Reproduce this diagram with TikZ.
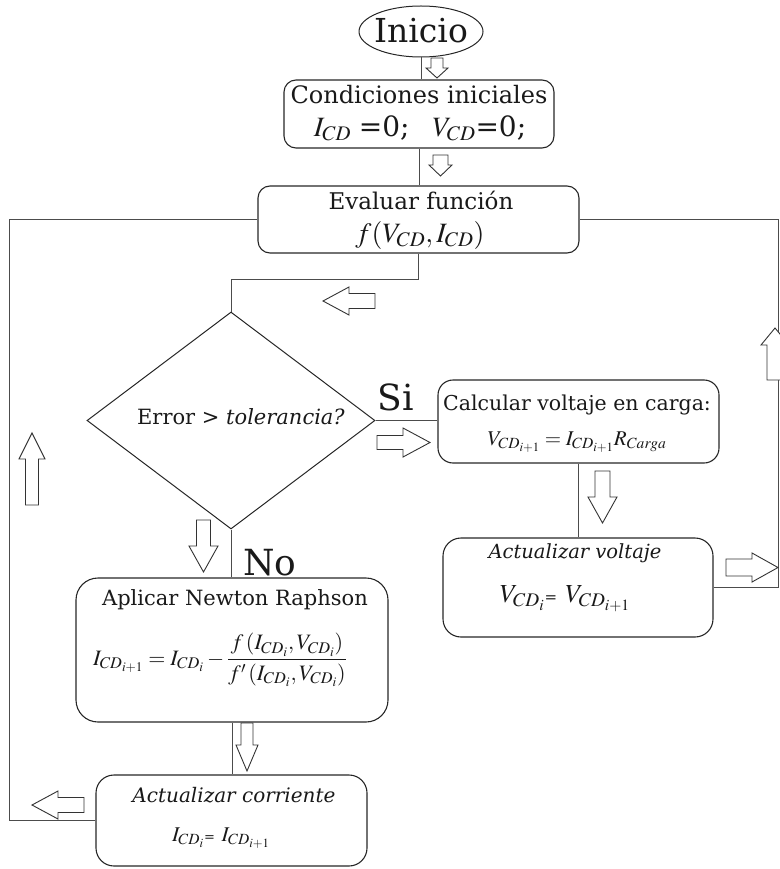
\documentclass[tikz,border=0pt]{standalone}
\usepackage{mathptmx}
\usepackage{fontspec}
\setmainfont{DejaVu Serif}
\usetikzlibrary{shapes.geometric}
\newcommand\fsz[1]{\fontsize{#1}{#1}\selectfont}
% hollow block arrow: #1,#2 = centre of the tail, #3 = direction on the page
% (0 right, 270 down, 180 left, 90 up), #4 = length, #5 = head width,
% #6 = shaft width, #7 = head length
\newcommand\blockarrow[7]{%
  \draw[blockarr, shift={(#1,#2)}, rotate=#3]
    (0,-#6/2) -- (#4-#7,-#6/2) -- (#4-#7,-#5/2) -- (#4,0) -- (#4-#7,#5/2) -- (#4-#7,#6/2) -- (0,#6/2) -- cycle;}
\tikzset{
  box/.style={draw=black!85, line width=1.1pt, rounded corners=12pt, inner sep=0pt},
  decision/.style={diamond, draw=black!85, line width=1pt, inner sep=0pt,
    minimum width=288pt, minimum height=217pt},
  link/.style={draw=black!70, line width=1pt},
  blockarr/.style={draw=black!80, line width=0.9pt, fill=white, line join=miter},
  txt/.style={inner sep=0pt, text=black!90},
}
\begin{document}
\begin{tikzpicture}[x=1pt, y=-1pt]
\useasboundingbox (0,0) rectangle (779,869);

% start
\node[ellipse, draw=black!85, line width=1pt, minimum width=124pt, minimum height=51pt, inner sep=0pt]
  (inicio) at (421,31.5) {};
\node[txt, font=\fsz{33}] (tinicio) at (421,31) {Inicio};

% boxes
\node[box, minimum width=270pt, minimum height=68pt] (cond) at (419,114) {};
\node[box, minimum width=321pt, minimum height=67pt] (eval) at (418.5,219.5) {};
\node[decision] (dec) at (231,420.5) {};
\node[box, minimum width=281pt, minimum height=83pt, rounded corners=15pt] (calc) at (578.5,421.5) {};
\node[box, minimum width=270pt, minimum height=99pt, rounded corners=18pt] (volt) at (578,587.5) {};
\node[box, minimum width=312pt, minimum height=144pt, rounded corners=22pt] (newton) at (232,650) {};
\node[box, minimum width=271pt, minimum height=91pt, rounded corners=18pt] (corr) at (231.5,820.5) {};

% texts
\node[txt, font=\fsz{24}] (tcond) at (419,95) {Condiciones iniciales};
\node[txt, font=\fsz{28}] (econd) at (420,128) {$I_{CD}$\;=0;\enspace\ $V_{CD}$=0;};
\node[txt, font=\fsz{23}] (teval) at (421,200) {Evaluar función};
\node[txt, font=\fsz{28}] (eeval) at (420,235) {$f(V_{CD},I_{CD})$};
\node[txt, font=\fsz{21}] (tdec) at (241,417) {Error > \textit{tolerancia?}};
\node[txt, font=\fsz{36}, anchor=base] (tsi) at (396,410) {Si};
\node[txt, font=\fsz{36}, anchor=base] (tno) at (270,575) {No};
\node[txt, font=\fsz{20.5}] (tcalc) at (577,405) {Calcular voltaje en carga:};
\node[txt, font=\fsz{21}] (ecalc) at (577,442) {$V_{CD_{i+1}}=I_{CD_{i+1}}R_{Carga}$};
\node[txt, font=\fsz{19.5}] (tvolt) at (575,553) {\itshape Actualizar voltaje};
\node[txt, font=\fsz{26}] (evolt) at (565,599) {$V_{CD_i}${\fsz{15}=} $V_{CD_{i+1}}$};
\node[txt, font=\fsz{21}] (tnewton) at (235,600) {Aplicar Newton Raphson};
\node[txt, font=\fsz{22}] (enewton) at (220,660)
  {$\displaystyle I_{CD_{i+1}}=I_{CD_i}-\frac{f\,(I_{CD_i},V_{CD_i})}{f'\,(I_{CD_i},V_{CD_i})}$};
\node[txt, font=\fsz{20}] (tcorr) at (234,795) {\itshape Actualizar corriente};
\node[txt, font=\fsz{21}] (ecorr) at (221,838) {$I_{CD_i}${\fsz{13}=} $I_{CD_{i+1}}$};

% connectors
\coordinate (redge) at (778.5,587.5);
\coordinate (ledge) at (9.5,820.5);
\draw[link] (inicio.south) -- (inicio.south |- cond.north);
\draw[link] (cond.south) -- (cond.south |- eval.north);
\draw[link] (eval.south) -- ++(0,26) -| (dec.north);
\draw[link] (dec.east) -- (calc.west |- dec.east);
\draw[link] (calc.south) -- (calc.south |- volt.north);
\draw[link] (volt.east) -- (redge) |- (eval.east);
\draw[link] (dec.south) -- (dec.south |- newton.north);
\draw[link] (newton.south) -- (newton.south |- corr.north);
\draw[link] (corr.west) -- (ledge) |- (eval.west);

% hollow flow arrows
\blockarrow{437}{58}{270}{20}{22}{12}{10}
\blockarrow{440.5}{155}{270}{21}{23}{15}{11}
\blockarrow{375}{301}{180}{52}{28}{15}{26}
\blockarrow{377}{442.5}{0}{53}{29}{14}{27}
\blockarrow{775}{380}{90}{52}{28}{16}{17}
\blockarrow{602.5}{471}{270}{52}{29}{15}{26}
\blockarrow{726}{567.5}{0}{52}{29}{17}{26}
\blockarrow{203.5}{520}{270}{52}{29}{14}{26}
\blockarrow{247}{723}{270}{48}{22}{12}{26}
\blockarrow{84}{805}{180}{52}{28}{15}{26}
\blockarrow{32}{505}{90}{72}{26}{13}{26}
\end{tikzpicture}
\end{document}
